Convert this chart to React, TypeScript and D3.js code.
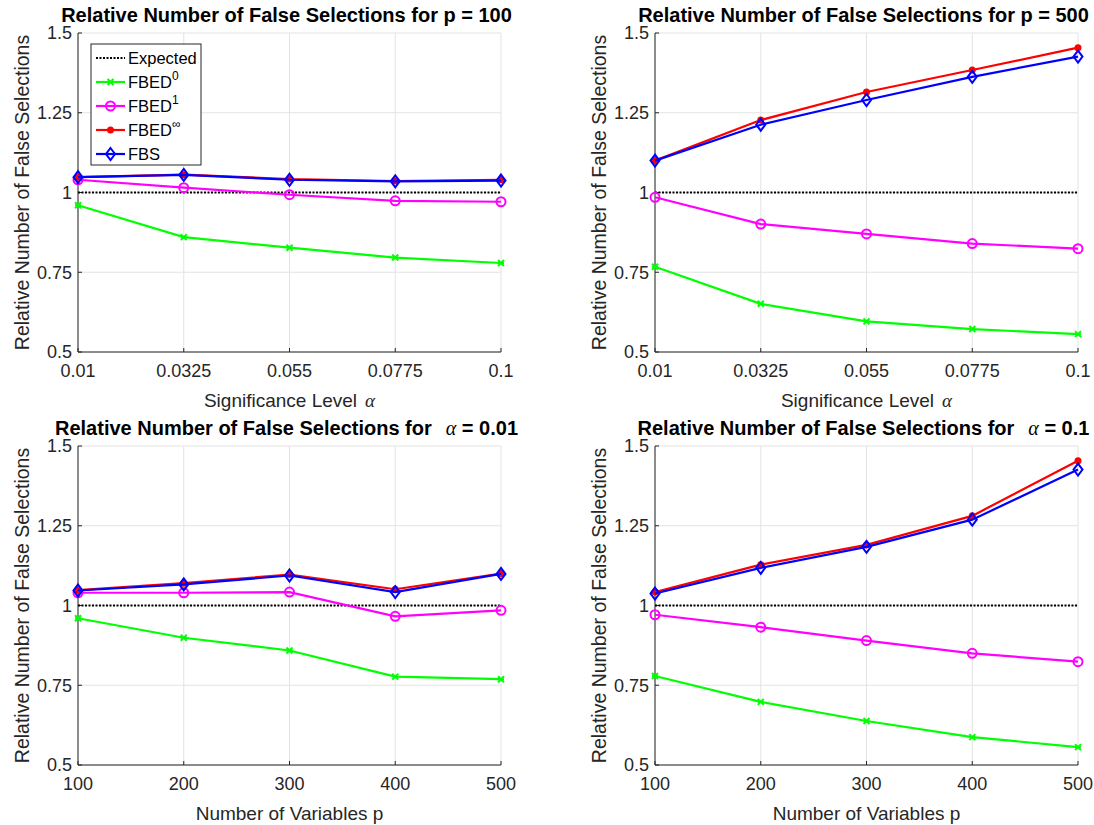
import React from "react";
import * as d3 from "d3";

const alphas = [0.01, 0.0325, 0.055, 0.0775, 0.1];
const alphaLabels = ["0.01", "0.0325", "0.055", "0.0775", "0.1"];
const pValues = [100, 200, 300, 400, 500];
const pLabels = ["100", "200", "300", "400", "500"];
const yTicks = [0.5, 0.75, 1, 1.25, 1.5];
const yTickLabels = ["0.5", "0.75", "1", "1.25", "1.5"];

// p = 100, over alpha
const p100Fbed0 = [0.96, 0.86, 0.827, 0.796, 0.779];
const p100Fbed1 = [1.04, 1.015, 0.993, 0.974, 0.971];
const p100FbedInf = [1.048, 1.056, 1.042, 1.036, 1.04];
const p100Fbs = [1.048, 1.055, 1.04, 1.035, 1.0375];

// p = 500, over alpha
const p500Fbed0 = [0.767, 0.651, 0.596, 0.572, 0.556];
const p500Fbed1 = [0.985, 0.901, 0.87, 0.84, 0.824];
const p500FbedInf = [1.1, 1.227, 1.315, 1.384, 1.454];
const p500Fbs = [1.1, 1.2125, 1.29, 1.3625, 1.426];

// alpha = 0.01, over p
const a001Fbed0 = [0.96, 0.899, 0.859, 0.777, 0.769];
const a001Fbed1 = [1.04, 1.04, 1.042, 0.966, 0.985];
const a001FbedInf = [1.048, 1.07, 1.097, 1.051, 1.1];
const a001Fbs = [1.047, 1.066, 1.094, 1.042, 1.099];

// alpha = 0.1, over p
const a01Fbed0 = [0.779, 0.698, 0.638, 0.5875, 0.556];
const a01Fbed1 = [0.971, 0.932, 0.89, 0.85, 0.824];
const a01FbedInf = [1.042, 1.128, 1.19, 1.281, 1.454];
const a01Fbs = [1.0375, 1.118, 1.184, 1.269, 1.426];

const expected = 1;

const FONT = "'Liberation Sans', Arial, Helvetica, sans-serif";
const SERIF = "'Liberation Serif', 'DejaVu Serif', serif";
const AXIS = "#262626";
const GRID = "#e3e3e3";

const COLORS = { fbed0: "#00ff00", fbed1: "#ff00ff", fbedInf: "#ff0000", fbs: "#0000ff" };

type Panel = {
  titleHead: string;
  titleGreek: string;
  titleTail: string;
  xlabel: string;
  xGreek: string;
  xs: number[];
  xLabels: string[];
  left: number;
  top: number;
  series: number[][];
  legend?: boolean;
};

const panels: Panel[] = [
  { titleHead: "Relative Number of False Selections for p = 100", titleGreek: "", titleTail: "", xlabel: "Significance Level", xGreek: "α", xs: alphas, xLabels: alphaLabels, left: 78, top: 33, series: [p100Fbed0, p100Fbed1, p100FbedInf, p100Fbs], legend: true },
  { titleHead: "Relative Number of False Selections for p = 500", titleGreek: "", titleTail: "", xlabel: "Significance Level", xGreek: "α", xs: alphas, xLabels: alphaLabels, left: 655, top: 33, series: [p500Fbed0, p500Fbed1, p500FbedInf, p500Fbs] },
  { titleHead: "Relative Number of False Selections for", titleGreek: "α", titleTail: " = 0.01", xlabel: "Number of Variables p", xGreek: "", xs: pValues, xLabels: pLabels, left: 78, top: 446, series: [a001Fbed0, a001Fbed1, a001FbedInf, a001Fbs] },
  { titleHead: "Relative Number of False Selections for", titleGreek: "α", titleTail: " = 0.1", xlabel: "Number of Variables p", xGreek: "", xs: pValues, xLabels: pLabels, left: 655, top: 446, series: [a01Fbed0, a01Fbed1, a01FbedInf, a01Fbs] },
];

const W = 423;
const H = 319;

function Marker({ kind, x, y }: { kind: string; x: number; y: number }) {
  if (kind === "fbed0") {
    const s = 3;
    return (
      <g stroke={COLORS.fbed0} strokeWidth={2}>
        <line x1={x - s} y1={y - s} x2={x + s} y2={y + s} />
        <line x1={x - s} y1={y + s} x2={x + s} y2={y - s} />
        <line x1={x - s} y1={y} x2={x + s} y2={y} />
      </g>
    );
  }
  if (kind === "fbed1") return <circle cx={x} cy={y} r={4.5} fill="none" stroke={COLORS.fbed1} strokeWidth={2} />;
  if (kind === "fbedInf") return <circle cx={x} cy={y} r={3.5} fill={COLORS.fbedInf} />;
  return (
    <path
      d={`M${x},${y - 6}L${x + 4.5},${y}L${x},${y + 6}L${x - 4.5},${y}Z`}
      fill="none"
      stroke={COLORS.fbs}
      strokeWidth={2}
    />
  );
}

const kinds = ["fbed0", "fbed1", "fbedInf", "fbs"];

function Chart({ panel }: { panel: Panel }) {
  const x = d3.scaleLinear().domain([panel.xs[0], panel.xs[panel.xs.length - 1]]).range([panel.left, panel.left + W]);
  const y = d3.scaleLinear().domain([0.5, 1.5]).range([panel.top + H, panel.top]);
  const line = d3
    .line<number>()
    .x((_, i) => x(panel.xs[i]))
    .y((d) => y(d));
  const bottom = panel.top + H;
  const right = panel.left + W;
  return (
    <g fontFamily={FONT}>
      {/* grid */}
      {panel.xs.map((v, i) => (
        <line key={"gx" + i} x1={x(v)} x2={x(v)} y1={panel.top} y2={bottom} stroke={GRID} />
      ))}
      {yTicks.map((v, i) => (
        <line key={"gy" + i} x1={panel.left} x2={right} y1={y(v)} y2={y(v)} stroke={GRID} />
      ))}
      {/* axes */}
      <line x1={panel.left} x2={panel.left} y1={panel.top} y2={bottom} stroke={AXIS} />
      <line x1={panel.left} x2={right} y1={bottom} y2={bottom} stroke={AXIS} />
      {yTicks.map((v, i) => (
        <g key={"ty" + i}>
          <line x1={panel.left} x2={panel.left + 4} y1={y(v)} y2={y(v)} stroke={AXIS} />
          <text x={panel.left - 6} y={y(v)} dy="0.36em" textAnchor="end" fontSize={18} fill={AXIS}>
            {yTickLabels[i]}
          </text>
        </g>
      ))}
      {panel.xs.map((v, i) => (
        <g key={"tx" + i}>
          <line x1={x(v)} x2={x(v)} y1={bottom} y2={bottom - 4} stroke={AXIS} />
          <text x={x(v)} y={bottom + 25} textAnchor="middle" fontSize={18} fill={AXIS}>
            {panel.xLabels[i]}
          </text>
        </g>
      ))}
      <text x={panel.left + W / 2} y={bottom + 55} textAnchor="middle" fontSize={19} fill={AXIS}>
        {panel.xlabel}
        {panel.xGreek && (
          <tspan dx={8} fontFamily={SERIF} fontStyle="italic">
            {panel.xGreek}
          </tspan>
        )}
      </text>
      <text
        transform={`translate(${panel.left - 49},${panel.top + H / 2}) rotate(-90)`}
        textAnchor="middle"
        fontSize={19.5}
        fill={AXIS}
      >
        Relative Number of False Selections
      </text>
      <text x={panel.left + W / 2 - 3} y={panel.top - 11} textAnchor="middle" fontSize={20} fontWeight="bold" fill="#000">
        {panel.titleHead}
        {panel.titleGreek && (
          <tspan dx={14} fontFamily={SERIF} fontStyle="italic" fontWeight="normal">
            {panel.titleGreek}
          </tspan>
        )}
        {panel.titleTail}
      </text>
      {/* expected */}
      <line x1={panel.left} x2={right} y1={y(expected)} y2={y(expected)} stroke="#000" strokeWidth={2} strokeDasharray="2,1.5" />
      {panel.series.map((s, k) => (
        <g key={"s" + k}>
          <path d={line(s) || ""} fill="none" stroke={COLORS[kinds[k] as keyof typeof COLORS]} strokeWidth={2.2} />
          {s.map((v, i) => (
            <Marker key={i} kind={kinds[k]} x={x(panel.xs[i])} y={y(v)} />
          ))}
        </g>
      ))}
      {panel.legend && <Legend x={panel.left + 13} y={panel.top + 11} />}
    </g>
  );
}

const legendNames = ["Expected", "FBED", "FBED", "FBED", "FBS"];
const legendSups = ["", "0", "1", "∞", ""];

function Legend({ x, y }: { x: number; y: number }) {
  const rowH = 24;
  return (
    <g>
      <rect x={x} y={y} width={110} height={121} fill="#fff" stroke={AXIS} />
      {legendNames.map((name, i) => {
        const cy = y + 14 + i * rowH;
        const kind = i === 0 ? "exp" : kinds[i - 1];
        return (
          <g key={i}>
            {i === 0 ? (
              <line x1={x + 5} x2={x + 34} y1={cy} y2={cy} stroke="#000" strokeWidth={2} strokeDasharray="2,1.5" />
            ) : (
              <>
                <line x1={x + 5} x2={x + 34} y1={cy} y2={cy} stroke={COLORS[kind as keyof typeof COLORS]} strokeWidth={2.2} />
                <Marker kind={kind} x={x + 19.5} y={cy} />
              </>
            )}
            <text x={x + 37} y={cy} dy="0.38em" fontSize={16.5} fill="#000">
              {name}
              {legendSups[i] && (
                <tspan dy={-8} fontSize={12}>
                  {legendSups[i]}
                </tspan>
              )}
            </text>
          </g>
        );
      })}
    </g>
  );
}

export default function App() {
  return (
    <svg width={1094} height={825} style={{ display: "block", position: "absolute", left: 0, top: 0, background: "#fff" }}>
      <rect width={1094} height={825} fill="#fff" />
      {panels.map((p, i) => (
        <Chart key={i} panel={p} />
      ))}
    </svg>
  );
}
